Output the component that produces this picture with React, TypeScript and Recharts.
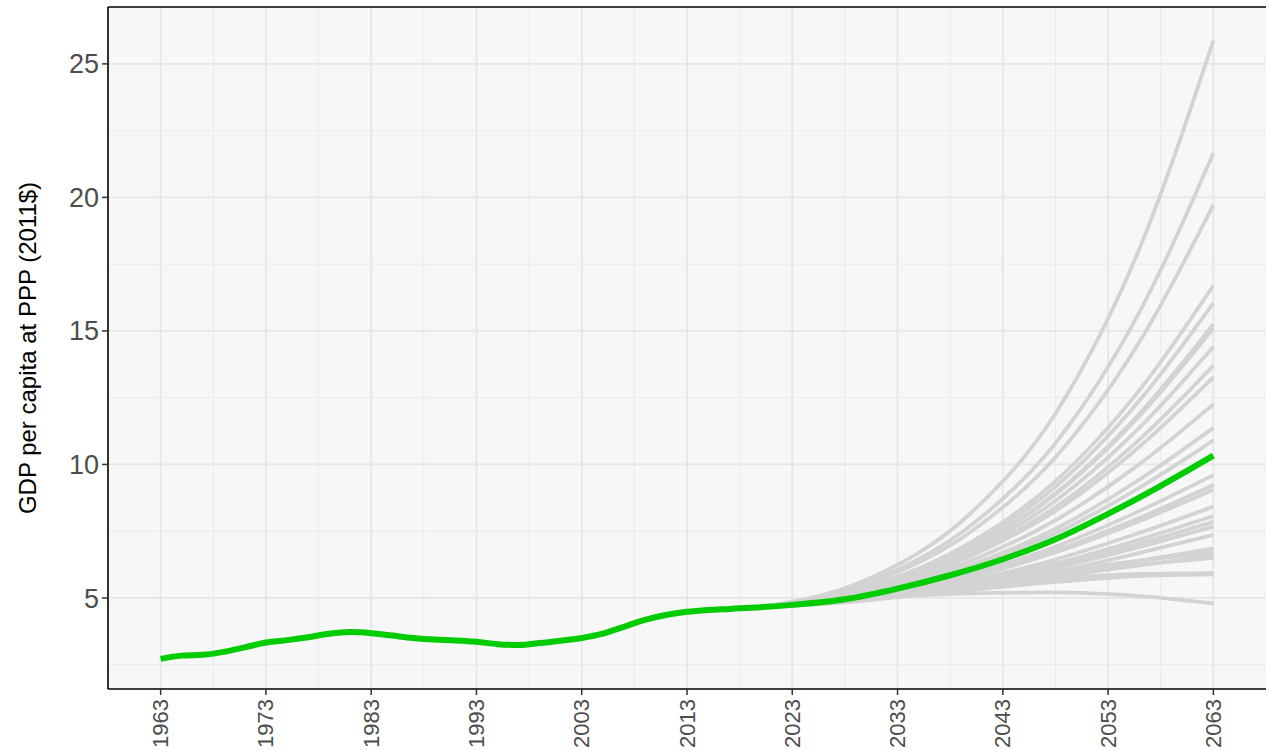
import React from 'react';
import {
  LineChart,
  Line,
  XAxis,
  YAxis,
  CartesianGrid,
  ReferenceLine,
} from 'recharts';

// historical + median projection (green)
const years = [
  1963, 1965, 1967, 1969, 1971, 1973, 1975, 1977, 1979, 1981, 1983, 1985, 1987, 1989, 1991,
  1993, 1995, 1997, 1999, 2001, 2003, 2005, 2007, 2009, 2011, 2013, 2015, 2017, 2019,
  2023, 2028, 2033, 2038, 2043, 2048, 2053, 2058, 2063,
];
const gdp = [
  2.72, 2.84, 2.87, 2.98, 3.15, 3.33, 3.42, 3.53, 3.66, 3.72, 3.68, 3.59, 3.5, 3.44, 3.41,
  3.36, 3.27, 3.24, 3.31, 3.4, 3.5, 3.66, 3.92, 4.18, 4.36, 4.48, 4.55, 4.59, 4.63,
  4.74, 4.95, 5.35, 5.85, 6.45, 7.2, 8.15, 9.2, 10.33,
];

// simulated paths (gray)
const projYears = [2020, 2030, 2040, 2048, 2056, 2063];
const projections = [
  [4.66, 5.67, 8.19, 11.91, 18.1, 25.87],
  [4.66, 5.56, 7.72, 10.8, 15.72, 21.65],
  [4.66, 5.5, 7.49, 10.27, 14.6, 19.72],
  [4.66, 5.39, 7.09, 9.37, 12.79, 16.7],
  [4.66, 5.37, 7.0, 9.16, 12.4, 16.04],
  [4.66, 5.34, 6.88, 8.92, 11.91, 15.25],
  [4.66, 5.33, 6.86, 8.87, 11.82, 15.1],
  [4.66, 5.3, 6.75, 8.64, 11.39, 14.41],
  [4.66, 5.27, 6.64, 8.4, 10.94, 13.7],
  [4.66, 5.25, 6.58, 8.26, 10.67, 13.27],
  [4.66, 5.2, 6.4, 7.91, 10.02, 12.25],
  [4.66, 5.16, 6.25, 7.59, 9.44, 11.37],
  [4.66, 5.13, 6.16, 7.42, 9.13, 10.9],
  [4.66, 5.06, 5.91, 6.92, 8.26, 9.6],
  [4.66, 5.04, 5.83, 6.77, 8.0, 9.23],
  [4.66, 5.02, 5.79, 6.7, 7.88, 9.05],
  [4.66, 4.98, 5.66, 6.44, 7.44, 8.42],
  [4.66, 4.96, 5.58, 6.29, 7.19, 8.07],
  [4.66, 4.94, 5.53, 6.2, 7.04, 7.85],
  [4.66, 4.93, 5.48, 6.12, 6.91, 7.67],
  [4.66, 4.9, 5.41, 5.98, 6.69, 7.36],
  [4.66, 5.05, 5.5, 5.92, 6.4, 6.85],
  [4.66, 5.1, 5.6, 6.0, 6.4, 6.72],
  [4.66, 5.0, 5.4, 5.8, 6.22, 6.6],
  [4.66, 5.08, 5.55, 5.92, 6.25, 6.5],
  [4.66, 5.0, 5.4, 5.72, 5.9, 5.93],
  [4.66, 4.95, 5.3, 5.6, 5.82, 5.88],
  [4.66, 4.98, 5.17, 5.21, 5.07, 4.8],
];

const xTicks = [1963, 1973, 1983, 1993, 2003, 2013, 2023, 2033, 2043, 2053, 2063];
const xMinor = [1958, 1968, 1978, 1988, 1998, 2008, 2018, 2028, 2038, 2048, 2058, 2068];
const yTicks = [5, 10, 15, 20, 25];
const yMinor = [2.5, 7.5, 12.5, 17.5, 22.5];

const X_DOMAIN: [number, number] = [1958, 2068];
const Y_DOMAIN: [number, number] = [1.59, 27.13];

const histData = years.map((year, i) => ({ year, v: gdp[i] }));
const projData = projections.map((vals) => vals.map((v, i) => ({ year: projYears[i], v })));

const XTick = (props: any) => {
  const { x, y, payload } = props;
  return (
    <g transform={`translate(${x},${y + 2}) rotate(-90)`}>
      <text
        textAnchor="end"
        dominantBaseline="central"
        fill="#4d4d4d"
        fontSize={22}
        fontFamily="Liberation Sans, Arial, sans-serif"
      >
        {payload.value}
      </text>
    </g>
  );
};

const YLabel = (props: any) => {
  const vb = props.viewBox;
  const cx = vb.x + 27;
  const cy = vb.y + vb.height / 2;
  return (
    <text
      x={cx}
      y={cy}
      transform={`rotate(-90 ${cx} ${cy})`}
      textAnchor="middle"
      dominantBaseline="central"
      fill="#000"
      fontSize={24}
      fontFamily="Liberation Sans, Arial, sans-serif"
    >
      GDP per capita at PPP (2011$)
    </text>
  );
};

export default function App() {
  return (
    <div style={{ position: 'absolute', left: 0, top: 0, background: '#fff' }}>
      <LineChart width={1266} height={751} margin={{ top: 7, right: 0, bottom: 0, left: 0 }}>
        <CartesianGrid
          fill="#f7f7f7"
          stroke="#ebebeb"
          strokeWidth={1}
          horizontalValues={yMinor}
          verticalValues={xMinor}
        />
        <CartesianGrid
          stroke="#e6e6e6"
          strokeWidth={1.8}
          horizontalValues={yTicks}
          verticalValues={xTicks}
        />
        <XAxis
          dataKey="year"
          type="number"
          domain={X_DOMAIN}
          ticks={xTicks}
          allowDataOverflow
          height={62}
          tick={<XTick />}
          tickSize={6}
          tickLine={{ stroke: '#333', strokeWidth: 1.5 }}
          axisLine={{ stroke: '#000', strokeWidth: 1.6 }}
          interval={0}
        />
        <YAxis
          type="number"
          domain={Y_DOMAIN}
          ticks={yTicks}
          allowDataOverflow
          width={108}
          tickSize={6}
          tickMargin={3}
          tick={{ fill: '#4d4d4d', fontSize: 27, fontFamily: 'Liberation Sans, Arial, sans-serif' }}
          tickLine={{ stroke: '#333', strokeWidth: 1.5 }}
          axisLine={{ stroke: '#000', strokeWidth: 1.6 }}
          label={{ content: YLabel }}
          interval={0}
        />
        <ReferenceLine y={Y_DOMAIN[1]} stroke="#000" strokeWidth={1.6} />
        {projData.map((d, i) => (
          <Line
            key={i}
            data={d}
            dataKey="v"
            type="monotone"
            stroke="#d3d3d3"
            strokeWidth={3.8}
            dot={false}
            activeDot={false}
            isAnimationActive={false}
          />
        ))}
        <Line
          data={histData}
          dataKey="v"
          type="monotone"
          stroke="#00cc00"
          strokeWidth={6}
          dot={false}
          activeDot={false}
          isAnimationActive={false}
        />
      </LineChart>
    </div>
  );
}
